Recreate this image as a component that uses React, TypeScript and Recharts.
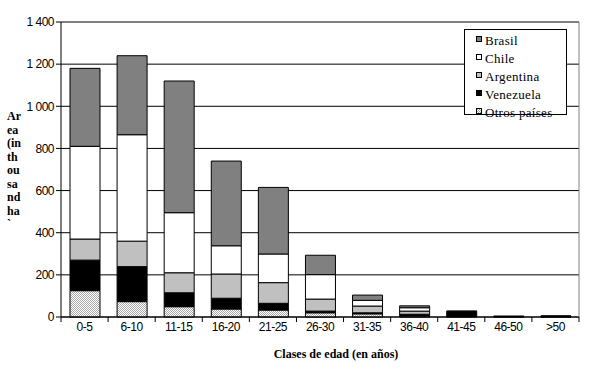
import React from 'react';
import { BarChart, Bar, XAxis, YAxis, CartesianGrid, ReferenceLine } from 'recharts';

const categories = ['0-5', '6-10', '11-15', '16-20', '21-25', '26-30', '31-35', '36-40', '41-45', '46-50', '>50'];
const otros = [125, 73, 49, 38, 33, 20, 15, 5, 2, 1, 1];
const venezuela = [145, 166, 66, 51, 32, 8, 5, 8, 25, 2, 2];
const argentina = [100, 121, 95, 115, 98, 57, 32, 15, 1, 1, 1];
const chile = [440, 505, 285, 134, 136, 116, 27, 16, 0, 0, 1];
const brasil = [370, 375, 625, 402, 316, 92, 25, 9, 0, 0, 0];
const yTicks = [0, 200, 400, 600, 800, 1000, 1200, 1400];
const yLabelLines = ['Ar', 'ea', '(in', 'th', 'ou', 'sa', 'nd', 'ha', '`'];

const data = categories.map((name, i) => ({
  name,
  otros: otros[i],
  venezuela: venezuela[i],
  argentina: argentina[i],
  chile: chile[i],
  brasil: brasil[i],
}));

const W = 604;
const H = 371;
const LEFT = 61;
const RIGHT = 25;
const TOP = 22;
const BOTTOM = 54;
const STEP = (W - LEFT - RIGHT) / categories.length;
const AXIS_Y = H - BOTTOM;

const legendItems = [
  { name: 'Brasil', fill: '#808080' },
  { name: 'Chile', fill: '#ffffff' },
  { name: 'Argentina', fill: '#c0c0c0' },
  { name: 'Venezuela', fill: '#000000' },
  { name: 'Otros países', fill: 'url(#otrosPattern)' },
];

const axisFont = { fontFamily: 'Liberation Sans, Arial, sans-serif', fontSize: 12, letterSpacing: -0.5, fill: '#000' };

const XTick = (props: any) => {
  const { x, payload, index } = props;
  const left = x - STEP / 2;
  return (
    <g>
      <line x1={left} x2={left} y1={AXIS_Y} y2={AXIS_Y + 5} stroke="#000" />
      {index === categories.length - 1 && (
        <line x1={x + STEP / 2} x2={x + STEP / 2} y1={AXIS_Y} y2={AXIS_Y + 5} stroke="#000" />
      )}
      <text x={x} y={AXIS_Y + 14} textAnchor="middle" style={axisFont}>
        {payload.value}
      </text>
    </g>
  );
};

const fmt = (v: number) => (v >= 1000 ? `${Math.floor(v / 1000)} ${String(v % 1000).padStart(3, '0')}` : String(v));

const App: React.FC = () => {
  return (
    <div style={{ position: 'absolute', left: 0, top: 0, width: W, height: H, background: '#fff' }}>
      <svg width={0} height={0} style={{ position: 'absolute' }}>
        <defs>
          <pattern id="otrosPattern" width={2} height={2} patternUnits="userSpaceOnUse">
            <rect width={2} height={2} fill="#ffffff" />
            <rect width={1} height={1} fill="#a8a8a8" />
            <rect x={1} y={1} width={1} height={1} fill="#a8a8a8" />
          </pattern>
        </defs>
      </svg>
      <BarChart width={W} height={H} data={data} margin={{ top: TOP, right: 0, left: 0, bottom: 0 }} barSize={30}>
        <CartesianGrid horizontal vertical={false} stroke="#000" />
        <XAxis dataKey="name" height={BOTTOM} axisLine={{ stroke: '#000' }} tickLine={false} tick={<XTick />} interval={0} />
        <YAxis
          width={LEFT}
          domain={[0, 1400]}
          ticks={yTicks}
          tickFormatter={fmt}
          axisLine={{ stroke: '#000' }}
          tickLine={{ stroke: '#000' }}
          tickSize={5}
          tickMargin={2}
          tick={axisFont}
        />
        <YAxis yAxisId="right" orientation="right" width={RIGHT} domain={[0, 1400]} tick={false} tickLine={false} axisLine={{ stroke: '#808080' }} />
        <ReferenceLine y={1400} stroke="#808080" />
        <Bar dataKey="otros" stackId="a" fill="url(#otrosPattern)" stroke="#000" isAnimationActive={false} />
        <Bar dataKey="venezuela" stackId="a" fill="#000000" stroke="#000" isAnimationActive={false} />
        <Bar dataKey="argentina" stackId="a" fill="#c0c0c0" stroke="#000" isAnimationActive={false} />
        <Bar dataKey="chile" stackId="a" fill="#ffffff" stroke="#000" isAnimationActive={false} />
        <Bar dataKey="brasil" stackId="a" fill="#808080" stroke="#000" isAnimationActive={false} />
      </BarChart>

      {/* legend box */}
      <div
        style={{
          position: 'absolute',
          left: 464,
          top: 29,
          width: 101,
          height: 84,
          border: '1px solid #000',
          background: '#fff',
        }}
      >
        {legendItems.map((item, i) => (
          <div
            key={item.name}
            style={{
              position: 'absolute',
              left: 11,
              top: 3 + i * 18,
              display: 'flex',
              alignItems: 'center',
              gap: 3,
              fontFamily: 'Liberation Serif, Times New Roman, serif',
              fontSize: 13,
              letterSpacing: 0.3,
              lineHeight: '16px',
              whiteSpace: 'nowrap',
            }}
          >
            <svg width={6} height={6} style={{ marginTop: -5 }}>
              <rect x={0.5} y={0.5} width={5} height={5} fill={item.fill} stroke="#000" />
            </svg>
            <span>{item.name}</span>
          </div>
        ))}
      </div>

      {/* y axis title */}
      <div style={{ position: 'absolute', left: 7, top: 110 }}>
        {yLabelLines.map((t, i) => (
          <div
            key={i}
            style={{
              fontFamily: 'Liberation Serif, Times New Roman, serif',
              fontWeight: 'bold',
              fontSize: 12,
              lineHeight: '13.5px',
              height: 13.5,
            }}
          >
            {t}
          </div>
        ))}
      </div>

      {/* x axis title */}
      <div
        style={{
          position: 'absolute',
          left: 236,
          width: 200,
          top: 347,
          textAlign: 'center',
          fontFamily: 'Liberation Serif, Times New Roman, serif',
          fontWeight: 'bold',
          fontSize: 12,
        }}
      >
        Clases de edad (en años)
      </div>
    </div>
  );
};

export default App;
